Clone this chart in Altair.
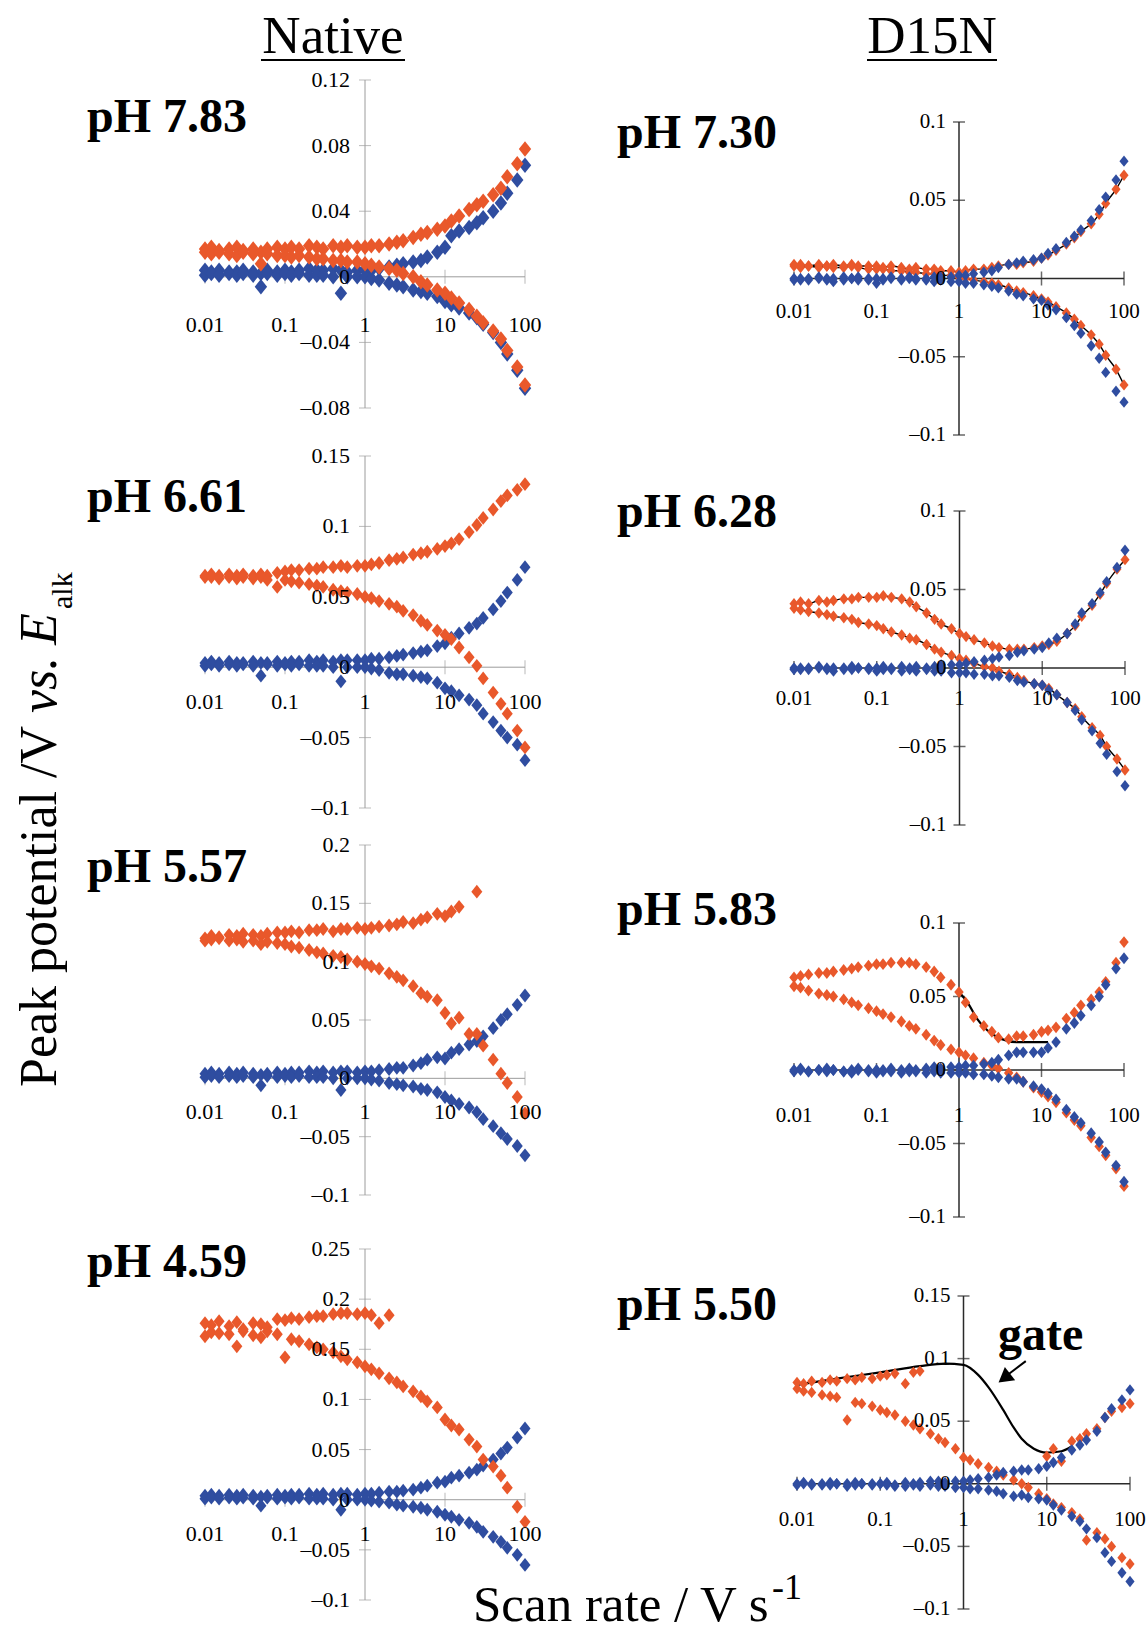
import altair as alt
import pandas as pd

# ---------------- data ----------------
SCAN_RATES = [0.01, 0.012, 0.015, 0.02, 0.025, 0.03, 0.04, 0.05, 0.06, 0.08,
              0.1, 0.12, 0.15, 0.2, 0.25, 0.3, 0.4, 0.5, 0.6, 0.8,
              1, 1.2, 1.5, 2, 2.5, 3, 4, 5, 6, 8,
              10, 12, 15, 20, 25, 30, 40, 50, 60, 80, 100]
X_TICKS = [0.01, 0.1, 1, 10, 100]
X_TICK_LABELS = ["0.01", "0.1", "1", "10", "100"]

# Native pH 7.83
N783_OX_O = [0.017, 0.018, 0.016, 0.017, 0.018, 0.016, 0.017, 0.015, 0.017, 0.018,
             0.017, 0.018, 0.017, 0.019, 0.018, 0.017, 0.019, 0.018, 0.019, 0.018,
             0.018, 0.019, 0.019, 0.020, 0.021, 0.022, 0.024, 0.026, 0.027, 0.029,
             0.031, 0.034, 0.037, 0.041, 0.044, 0.046, 0.050, 0.054, 0.061, 0.069, 0.078]
N783_RED_O = [0.015, 0.014, 0.015, 0.014, 0.013, 0.015, 0.014, 0.008, 0.014, 0.013,
              0.013, 0.012, 0.013, 0.012, 0.011, 0.011, 0.010, 0.010, 0.009, 0.009,
              0.008, 0.007, 0.006, 0.005, 0.004, 0.002, 0.000, -0.003, -0.005, -0.008,
              -0.010, -0.013, -0.016, -0.020, -0.024, -0.028, -0.033, -0.038, -0.045, -0.055, -0.066]
N783_OX_B = [0.004, 0.003, 0.004, 0.003, 0.003, 0.004, 0.003, 0.002, 0.004, 0.003,
             0.004, 0.003, 0.004, 0.005, 0.004, 0.004, 0.005, 0.004, 0.003, 0.004,
             0.004, 0.004, 0.005, 0.006, 0.007, 0.008, 0.009, 0.010, 0.012, 0.015,
             0.018, 0.025, 0.028, 0.030, 0.033, 0.036, 0.040, 0.045, 0.051, 0.059, 0.068]
N783_RED_B = [0.001, 0.002, 0.001, 0.002, 0.001, 0.002, 0.001, -0.006, 0.002, 0.001,
              0.002, 0.001, 0.002, 0.001, 0.001, 0.001, 0.000, -0.010, 0.000, 0.000,
              0.000, -0.001, -0.002, -0.004, -0.005, -0.006, -0.008, -0.009, -0.010, -0.012,
              -0.015, -0.017, -0.019, -0.022, -0.025, -0.029, -0.034, -0.040, -0.047, -0.057, -0.068]

# Native pH 6.61
N661_OX_O = [0.065, 0.066, 0.065, 0.066, 0.065, 0.066, 0.065, 0.066, 0.065, 0.067,
             0.068, 0.069, 0.069, 0.070, 0.070, 0.071, 0.071, 0.072, 0.071, 0.072,
             0.072, 0.073, 0.074, 0.076, 0.077, 0.078, 0.080, 0.081, 0.082, 0.084,
             0.086, 0.088, 0.091, 0.096, 0.101, 0.106, 0.112, 0.118, 0.122, 0.126, 0.130]
N661_RED_O = [0.064, 0.064, 0.063, 0.064, 0.063, 0.064, 0.063, 0.064, 0.062, 0.057,
              0.062, 0.061, 0.060, 0.059, 0.058, 0.057, 0.055, 0.054, 0.053, 0.052,
              0.050, 0.049, 0.047, 0.045, 0.043, 0.040, 0.037, 0.033, 0.030, 0.026,
              0.023, 0.020, 0.014, 0.007, 0.001, -0.008, -0.018, -0.026, -0.033, -0.045, -0.057]
N661_OX_B = [0.003, 0.004, 0.003, 0.004, 0.003, 0.003, 0.004, 0.003, 0.003, 0.004,
             0.003, 0.004, 0.004, 0.005, 0.004, 0.005, 0.004, 0.005, 0.005, 0.005,
             0.005, 0.006, 0.006, 0.007, 0.008, 0.009, 0.010, 0.011, 0.012, 0.015,
             0.017, 0.021, 0.024, 0.028, 0.031, 0.035, 0.041, 0.047, 0.053, 0.062, 0.071]
N661_RED_B = [0.001, 0.002, 0.001, 0.002, 0.001, 0.002, 0.001, -0.006, 0.002, 0.001,
              0.002, 0.001, 0.002, 0.001, 0.001, 0.001, 0.000, -0.010, 0.000, 0.000,
              0.000, -0.001, -0.002, -0.004, -0.005, -0.005, -0.006, -0.007, -0.008, -0.011,
              -0.015, -0.017, -0.020, -0.023, -0.027, -0.033, -0.039, -0.045, -0.050, -0.055, -0.066]

# Native pH 5.57
N557_OX_O = [0.120, 0.122, 0.121, 0.123, 0.122, 0.124, 0.123, 0.122, 0.124, 0.125,
             0.125, 0.126, 0.125, 0.127, 0.127, 0.128, 0.126, 0.128, 0.128, 0.129,
             0.128, 0.129, 0.130, 0.131, 0.132, 0.134, 0.133, 0.136, 0.138, 0.141,
             0.139, 0.143, 0.147, None, 0.160, None, None, None, None, None, None]
N557_RED_O = [0.118, 0.119, 0.120, 0.118, 0.119, 0.117, 0.118, 0.115, 0.117, 0.116,
              0.115, 0.113, 0.112, 0.110, 0.108, 0.107, 0.105, 0.104, 0.102, 0.100,
              0.098, 0.096, 0.094, 0.090, 0.087, 0.084, 0.079, 0.073, 0.070, 0.067,
              0.056, 0.047, 0.052, 0.038, 0.038, 0.028, 0.016, 0.004, -0.004, -0.016, -0.030]
N557_OX_B = [0.004, 0.005, 0.004, 0.005, 0.004, 0.005, 0.004, 0.003, 0.004, 0.005,
             0.004, 0.005, 0.005, 0.006, 0.005, 0.006, 0.005, 0.006, 0.006, 0.005,
             0.006, 0.006, 0.007, 0.008, 0.009, 0.009, 0.011, 0.013, 0.016, 0.018,
             0.017, 0.022, 0.025, 0.029, 0.032, 0.036, 0.043, 0.050, 0.055, 0.063, 0.071]
N557_RED_B = [0.001, 0.002, 0.001, 0.002, 0.001, 0.002, 0.001, -0.006, 0.002, 0.001,
              0.002, 0.001, 0.002, 0.001, 0.001, 0.001, 0.000, -0.010, 0.000, 0.000,
              0.000, -0.001, -0.002, -0.004, -0.005, -0.006, -0.007, -0.009, -0.010, -0.012,
              -0.016, -0.019, -0.022, -0.025, -0.029, -0.035, -0.041, -0.047, -0.052, -0.058, -0.066]

# Native pH 4.59
N459_OX_O = [0.176, 0.174, 0.178, 0.173, 0.177, 0.170, 0.176, 0.175, 0.172, 0.180,
             0.179, 0.181, 0.180, 0.182, 0.183, 0.183, 0.185, 0.186, 0.186, 0.185,
             0.186, 0.184, 0.176, 0.184, None, None, None, None, None, None,
             None, None, None, None, None, None, None, None, None, None, None]
N459_RED_O = [0.163, 0.167, 0.166, 0.165, 0.153, 0.168, 0.164, 0.162, 0.168, 0.165,
              0.142, 0.160, 0.158, 0.155, 0.152, 0.150, 0.147, 0.143, 0.140, 0.137,
              0.133, 0.130, 0.126, 0.121, 0.117, 0.113, 0.108, 0.103, 0.098, 0.092,
              0.080, 0.074, 0.070, 0.060, 0.053, 0.040, 0.033, 0.024, 0.012, -0.007, -0.022]
N459_OX_B = [0.004, 0.005, 0.004, 0.005, 0.004, 0.005, 0.004, 0.003, 0.004, 0.005,
             0.004, 0.005, 0.005, 0.006, 0.005, 0.006, 0.005, 0.006, 0.006, 0.005,
             0.006, 0.006, 0.007, 0.008, 0.008, 0.009, 0.010, 0.012, 0.014, 0.017,
             0.018, 0.022, 0.024, 0.027, 0.030, 0.034, 0.040, 0.046, 0.052, 0.062, 0.071]
N459_RED_B = [0.001, 0.002, 0.001, 0.002, 0.001, 0.002, 0.001, -0.006, 0.002, 0.001,
              0.002, 0.001, 0.002, 0.001, 0.001, 0.001, 0.000, -0.010, 0.000, 0.000,
              0.000, -0.001, -0.002, -0.003, -0.005, -0.006, -0.007, -0.008, -0.010, -0.012,
              -0.015, -0.017, -0.020, -0.023, -0.027, -0.032, -0.037, -0.042, -0.048, -0.055, -0.065]

# D15N pH 7.30
D730_OX_O = [0.009, 0.009, 0.008, 0.009, 0.008, 0.009, 0.008, 0.009, 0.008, 0.008,
             0.008, 0.007, 0.008, 0.007, 0.006, 0.007, 0.006, 0.006, 0.005, 0.005,
             0.004, 0.005, 0.006, 0.006, 0.007, 0.008, 0.009, 0.009, 0.010, 0.011,
             0.013, 0.015, 0.018, 0.022, 0.026, 0.030, 0.035, 0.041, 0.048, 0.057, 0.066]
D730_RED_O = [0.008, 0.007, 0.008, 0.007, 0.008, 0.007, 0.007, 0.008, 0.007, 0.006,
              0.006, 0.006, 0.005, 0.005, 0.004, 0.004, 0.003, 0.003, 0.002, 0.002,
              0.001, 0.000, -0.001, -0.002, -0.003, -0.004, -0.006, -0.008, -0.009, -0.011,
              -0.013, -0.015, -0.018, -0.022, -0.026, -0.030, -0.036, -0.042, -0.049, -0.058, -0.068]
D730_OX_B = [0.000, -0.001, 0.000, 0.001, 0.000, -0.002, 0.001, 0.000, 0.001, 0.000,
             -0.003, 0.000, 0.001, 0.000, 0.001, 0.000, 0.000, 0.001, 0.001, 0.001,
             0.002, 0.002, 0.003, 0.004, 0.005, 0.007, 0.009, 0.010, 0.011, 0.012,
             0.013, 0.016, 0.019, 0.023, 0.027, 0.031, 0.037, 0.044, 0.052, 0.063, 0.075]
D730_RED_B = [-0.001, 0.000, -0.001, 0.000, -0.001, 0.000, -0.001, 0.000, -0.001, -0.001,
              0.000, -0.001, 0.000, -0.001, 0.000, -0.001, -0.001, -0.002, -0.001, -0.002,
              -0.002, -0.003, -0.003, -0.004, -0.005, -0.006, -0.008, -0.010, -0.011, -0.013,
              -0.014, -0.017, -0.020, -0.025, -0.030, -0.035, -0.043, -0.051, -0.060, -0.072, -0.079]

# D15N pH 6.28
D628_OX_O = [0.041, 0.042, 0.041, 0.043, 0.042, 0.043, 0.044, 0.044, 0.045, 0.045,
             0.045, 0.046, 0.045, 0.044, 0.042, 0.039, 0.035, 0.031, 0.028, 0.025,
             0.022, 0.020, 0.018, 0.016, 0.014, 0.013, 0.012, 0.012, 0.012, 0.013,
             0.014, 0.015, 0.017, 0.022, 0.027, 0.033, 0.040, 0.047, 0.054, 0.063, 0.069]
D628_RED_O = [0.038, 0.037, 0.036, 0.035, 0.034, 0.033, 0.032, 0.031, 0.029, 0.028,
              0.027, 0.025, 0.023, 0.021, 0.019, 0.018, 0.015, 0.012, 0.010, 0.008,
              0.006, 0.005, 0.003, 0.001, 0.000, -0.002, -0.004, -0.006, -0.008, -0.010,
              -0.011, -0.013, -0.017, -0.022, -0.026, -0.031, -0.038, -0.043, -0.050, -0.058, -0.065]
D628_OX_B = [0.000, -0.001, 0.000, 0.001, 0.000, -0.002, 0.000, 0.001, 0.000, 0.000,
             -0.002, 0.001, 0.000, 0.001, 0.000, 0.001, 0.000, 0.001, 0.002, 0.002,
             0.002, 0.003, 0.004, 0.005, 0.006, 0.007, 0.008, 0.010, 0.011, 0.012,
             0.013, 0.016, 0.019, 0.022, 0.028, 0.035, 0.041, 0.048, 0.055, 0.064, 0.075]
D628_RED_B = [-0.001, 0.000, -0.001, 0.000, -0.001, 0.000, -0.001, -0.001, 0.000, -0.001,
              0.000, -0.001, -0.001, -0.002, -0.001, -0.002, -0.001, -0.002, -0.002, -0.003,
              -0.003, -0.003, -0.004, -0.004, -0.005, -0.005, -0.006, -0.008, -0.009, -0.010,
              -0.011, -0.014, -0.017, -0.022, -0.027, -0.033, -0.040, -0.048, -0.055, -0.066, -0.075]

# D15N pH 5.83
D583_OX_O = [0.063, 0.064, 0.065, 0.066, 0.066, 0.067, 0.068, 0.069, 0.070, 0.071,
             0.072, 0.072, 0.073, 0.073, 0.073, 0.072, 0.070, 0.067, 0.063, 0.058,
             0.053, 0.046, 0.036, 0.030, 0.026, 0.022, 0.021, 0.023, 0.023, 0.024,
             0.026, 0.027, 0.029, 0.035, 0.039, 0.044, 0.048, 0.053, 0.060, 0.073, 0.087]
D583_RED_O = [0.057, 0.056, 0.054, 0.052, 0.051, 0.050, 0.048, 0.046, 0.044, 0.042,
              0.040, 0.038, 0.036, 0.033, 0.030, 0.028, 0.024, 0.020, 0.017, 0.014,
              0.012, 0.010, 0.008, 0.005, 0.003, 0.001, -0.002, -0.005, -0.008, -0.012,
              -0.015, -0.018, -0.022, -0.029, -0.034, -0.038, -0.046, -0.052, -0.058, -0.067, -0.079]
D583_OX_B = [0.000, 0.001, -0.001, 0.000, 0.001, 0.000, -0.001, 0.000, 0.001, 0.000,
             -0.002, 0.000, 0.001, 0.000, 0.001, 0.000, 0.001, 0.002, 0.001, 0.002,
             0.002, 0.003, 0.003, 0.004, 0.005, 0.007, 0.010, 0.012, 0.012, 0.012,
             0.012, 0.015, 0.019, 0.028, 0.032, 0.037, 0.044, 0.050, 0.058, 0.069, 0.076]
D583_RED_B = [-0.001, 0.000, -0.001, 0.000, -0.001, 0.000, -0.001, -0.002, 0.000, -0.001,
              0.000, -0.001, -0.001, -0.002, -0.001, -0.001, -0.002, -0.001, -0.002, -0.002,
              -0.002, -0.002, -0.003, -0.003, -0.004, -0.005, -0.006, -0.006, -0.008, -0.011,
              -0.013, -0.016, -0.020, -0.027, -0.032, -0.036, -0.043, -0.049, -0.056, -0.065, -0.076]
FIT583_X = [1, 1.3, 1.65, 2.2, 3.3, 5, 8, 12]
FIT583_Y = [0.053, 0.045, 0.035, 0.027, 0.021, 0.019, 0.019, 0.019]

# D15N pH 5.50
D550_OX_O = [0.081, 0.080, 0.082, 0.081, 0.083, 0.082, 0.084, 0.083, 0.085, 0.084,
             0.086, 0.087, 0.088, 0.080, 0.089, 0.090, None, None, None, None,
             None, None, None, None, None, None, None, None, None, None,
             0.022, 0.028, 0.018, 0.034, 0.036, 0.040, 0.044, 0.053, 0.058, 0.061, 0.064]
D550_RED_O = [0.076, 0.074, 0.073, 0.071, 0.070, 0.069, 0.051, 0.065, 0.064, 0.062,
              0.059, 0.057, 0.055, 0.050, 0.047, 0.044, 0.040, 0.036, 0.033, 0.028,
              0.021, 0.019, 0.016, 0.013, 0.010, 0.007, 0.003, 0.000, -0.003, -0.008,
              -0.012, -0.016, -0.019, -0.023, -0.028, -0.045, -0.039, -0.044, -0.050, -0.059, -0.064]
D550_OX_B = [0.000, 0.001, 0.000, -0.001, 0.001, 0.000, 0.000, 0.001, 0.000, 0.000,
             0.000, 0.001, -0.002, 0.001, 0.000, 0.001, 0.002, 0.002, 0.001, 0.002,
             0.002, 0.003, 0.004, 0.005, 0.007, 0.009, 0.010, 0.011, 0.011, 0.012,
             0.014, 0.017, 0.021, 0.027, 0.031, 0.035, 0.042, 0.053, 0.060, 0.067, 0.075]
D550_RED_B = [-0.001, 0.000, -0.001, 0.000, -0.001, 0.000, -0.002, -0.001, 0.000, -0.001,
              0.000, -0.001, -0.001, -0.002, -0.001, -0.002, -0.001, -0.002, -0.002, -0.003,
              -0.003, -0.004, -0.004, -0.005, -0.006, -0.008, -0.010, -0.009, -0.011, -0.012,
              -0.013, -0.017, -0.021, -0.026, -0.030, -0.036, -0.043, -0.055, -0.062, -0.071, -0.078]
GATE_X = [0.01, 0.03, 0.1, 0.3, 0.6, 1, 1.5, 2, 3, 4, 5, 7, 10, 15, 20]
GATE_Y = [0.079, 0.084, 0.089, 0.094, 0.096, 0.095, 0.087, 0.077, 0.059, 0.045, 0.036, 0.028, 0.025, 0.026, 0.030]
GATE_ARROW_X = [5.6, 3.5]
GATE_ARROW_Y = [0.098, 0.0877]
GATE_HEAD_X = [3.09]
GATE_HEAD_Y = [0.0845]

# ---------------- styling ----------------
FONT = "Liberation Serif"
ORANGE = "#E9582B"
BLUE = "#2F4DA0"
DIAMOND = "M0,-1L0.8,0L0,1L-0.8,0Z"

STYLE = {
    "native": dict(axis_color="#9c9c9c", axis_width=1.0, tick_font=22, label_dx=-15),
    "d15n": dict(axis_color="#2a2a2a", axis_width=1.5, tick_font=21, label_dx=-13),
}

PANELS = [
    dict(title="pH 7.83", txy=(87, 132), style="native", x_px=(205, 525),
         y_dom=(-0.08, 0.12), y_px=(408, 80),
         y_ticks=[-0.08, -0.04, 0.0, 0.04, 0.08, 0.12],
         y_labels=["–0.08", "–0.04", "0", "0.04", "0.08", "0.12"],
         x_dy=48, size=240,
         points=[(N783_OX_B, BLUE), (N783_RED_B, BLUE), (N783_OX_O, ORANGE), (N783_RED_O, ORANGE)],
         lines=[]),
    dict(title="pH 6.61", txy=(87, 512), style="native", x_px=(205, 525),
         y_dom=(-0.1, 0.15), y_px=(808, 456),
         y_ticks=[-0.1, -0.05, 0.0, 0.05, 0.1, 0.15],
         y_labels=["–0.1", "–0.05", "0", "0.05", "0.1", "0.15"],
         x_dy=35, size=190,
         points=[(N661_OX_B, BLUE), (N661_RED_B, BLUE), (N661_OX_O, ORANGE), (N661_RED_O, ORANGE)],
         lines=[]),
    dict(title="pH 5.57", txy=(87, 882), style="native", x_px=(205, 525),
         y_dom=(-0.1, 0.2), y_px=(1195, 845),
         y_ticks=[-0.1, -0.05, 0.0, 0.05, 0.1, 0.15, 0.2],
         y_labels=["–0.1", "–0.05", "0", "0.05", "0.1", "0.15", "0.2"],
         x_dy=34, size=190,
         points=[(N557_OX_B, BLUE), (N557_RED_B, BLUE), (N557_OX_O, ORANGE), (N557_RED_O, ORANGE)],
         lines=[]),
    dict(title="pH 4.59", txy=(87, 1277), style="native", x_px=(205, 525),
         y_dom=(-0.1, 0.25), y_px=(1600, 1249),
         y_ticks=[-0.1, -0.05, 0.0, 0.05, 0.1, 0.15, 0.2, 0.25],
         y_labels=["–0.1", "–0.05", "0", "0.05", "0.1", "0.15", "0.2", "0.25"],
         x_dy=34, size=190,
         points=[(N459_OX_B, BLUE), (N459_RED_B, BLUE), (N459_OX_O, ORANGE), (N459_RED_O, ORANGE)],
         lines=[]),
    dict(title="pH 7.30", txy=(617, 148), style="d15n", x_px=(794, 1124),
         y_dom=(-0.1, 0.1), y_px=(435, 122),
         y_ticks=[-0.1, -0.05, 0.0, 0.05, 0.1], y_labels=["–0.1", "–0.05", "0", "0.05", "0.1"],
         x_dy=33, size=130,
         points=[(D730_OX_O, ORANGE), (D730_RED_O, ORANGE), (D730_OX_B, BLUE), (D730_RED_B, BLUE)],
         lines=[(SCAN_RATES, D730_OX_O), (SCAN_RATES, D730_RED_O)]),
    dict(title="pH 6.28", txy=(617, 527), style="d15n", x_px=(794, 1125),
         y_dom=(-0.1, 0.1), y_px=(825, 511),
         y_ticks=[-0.1, -0.05, 0.0, 0.05, 0.1], y_labels=["–0.1", "–0.05", "0", "0.05", "0.1"],
         x_dy=31, size=130,
         points=[(D628_OX_O, ORANGE), (D628_RED_O, ORANGE), (D628_OX_B, BLUE), (D628_RED_B, BLUE)],
         lines=[(SCAN_RATES, D628_OX_O), (SCAN_RATES, D628_RED_O)]),
    dict(title="pH 5.83", txy=(617, 925), style="d15n", x_px=(794, 1124),
         y_dom=(-0.1, 0.1), y_px=(1217, 923),
         y_ticks=[-0.1, -0.05, 0.0, 0.05, 0.1], y_labels=["–0.1", "–0.05", "0", "0.05", "0.1"],
         x_dy=46, size=140,
         points=[(D583_OX_O, ORANGE), (D583_RED_O, ORANGE), (D583_OX_B, BLUE), (D583_RED_B, BLUE)],
         lines=[(FIT583_X, FIT583_Y)]),
    dict(title="pH 5.50", txy=(617, 1320), style="d15n", x_px=(797, 1130),
         y_dom=(-0.1, 0.15), y_px=(1609, 1296),
         y_ticks=[-0.1, -0.05, 0.0, 0.05, 0.1, 0.15],
         y_labels=["–0.1", "–0.05", "0", "0.05", "0.1", "0.15"],
         x_dy=36, size=130,
         points=[(D550_OX_O, ORANGE), (D550_RED_O, ORANGE), (D550_OX_B, BLUE), (D550_RED_B, BLUE)],
         lines=[(GATE_X, GATE_Y)], gate=True),
]


def panel_layers(p):
    st = STYLE[p["style"]]
    sx = alt.Scale(type="log", domain=[0.01, 100], range=list(p["x_px"]), nice=False)
    sy = alt.Scale(type="linear", domain=list(p["y_dom"]), range=list(p["y_px"]),
                   nice=False, zero=False)

    def ex(f="x"):
        return alt.X(f + ":Q", scale=sx, axis=None)

    def ey(f="y"):
        return alt.Y(f + ":Q", scale=sy, axis=None)

    ymin, ymax = p["y_dom"]
    ac, aw = st["axis_color"], st["axis_width"]
    out = []
    # axis lines crossing at (1, 0)
    out.append(alt.Chart(pd.DataFrame({"x": [1.0], "y": [ymin], "y2": [ymax]}))
               .mark_rule(color=ac, strokeWidth=aw)
               .encode(x=ex(), y=ey(), y2="y2:Q"))
    out.append(alt.Chart(pd.DataFrame({"x": [0.01], "x2": [100.0], "y": [0.0]}))
               .mark_rule(color=ac, strokeWidth=aw)
               .encode(x=ex(), x2="x2:Q", y=ey()))
    yt = p["y_ticks"]
    out.append(alt.Chart(pd.DataFrame({"x": [1.0] * len(yt), "y": yt}))
               .mark_tick(orient="horizontal", size=12, thickness=aw, color=ac)
               .encode(x=ex(), y=ey()))
    out.append(alt.Chart(pd.DataFrame({"x": X_TICKS, "y": [0.0] * len(X_TICKS)}))
               .mark_tick(orient="vertical", size=14, thickness=aw, color=ac)
               .encode(x=ex(), y=ey()))
    # fit lines (black)
    for lx, ly in p["lines"]:
        df = pd.DataFrame({"x": lx, "y": ly}).dropna()
        out.append(alt.Chart(df).mark_line(color="black", strokeWidth=2.2 if p.get("gate") or len(lx) < 20 else 1.4,
                                           interpolate="monotone")
                   .encode(x=ex(), y=ey()))
    # data points
    for ser, col in p["points"]:
        df = pd.DataFrame({"x": SCAN_RATES, "y": ser}).dropna()
        out.append(alt.Chart(df)
                   .mark_point(shape=DIAMOND, filled=True, size=p["size"], color=col,
                               opacity=1, strokeWidth=0)
                   .encode(x=ex(), y=ey()))
    # gate arrow
    if p.get("gate"):
        out.append(alt.Chart(pd.DataFrame({"x": GATE_ARROW_X[:1], "x2": GATE_ARROW_X[1:],
                                           "y": GATE_ARROW_Y[:1], "y2": GATE_ARROW_Y[1:]}))
                   .mark_rule(color="black", strokeWidth=2)
                   .encode(x=ex(), x2="x2:Q", y=ey(), y2="y2:Q"))
        out.append(alt.Chart(pd.DataFrame({"x": GATE_HEAD_X, "y": GATE_HEAD_Y}))
                   .mark_point(shape="triangle-up", filled=True, size=280, color="black",
                               opacity=1, angle=232, strokeWidth=0)
                   .encode(x=ex(), y=ey()))
    # tick labels
    out.append(alt.Chart(pd.DataFrame({"x": [1.0] * len(yt), "y": yt, "t": p["y_labels"]}))
               .mark_text(align="right", baseline="middle", dx=st["label_dx"], font=FONT,
                          fontSize=st["tick_font"], color="black")
               .encode(x=ex(), y=ey(), text="t:N"))
    out.append(alt.Chart(pd.DataFrame({"x": X_TICKS, "y": [0.0] * len(X_TICKS), "t": X_TICK_LABELS}))
               .mark_text(align="center", baseline="middle", dy=p["x_dy"], font=FONT,
                          fontSize=st["tick_font"], color="black")
               .encode(x=ex(), y=ey(), text="t:N"))
    return out


def text_at(txt, x, y, size, weight="normal", style="normal", align="left", angle=0):
    return (alt.Chart(alt.Data(values=[{}]))
            .mark_text(text=txt, font=FONT, fontSize=size, fontWeight=weight, fontStyle=style,
                       align=align, baseline="alphabetic", angle=angle, color="black")
            .encode(x=alt.value(x), y=alt.value(y)))


def hline(x1, x2, y, w=2):
    return (alt.Chart(alt.Data(values=[{}]))
            .mark_rule(color="black", strokeWidth=w)
            .encode(x=alt.value(x1), x2=alt.value(x2), y=alt.value(y)))


layers = []
for p in PANELS:
    layers.extend(panel_layers(p))
    layers.append(text_at(p["title"], p["txy"][0], p["txy"][1], 48, weight="bold"))

# column headers
layers.append(text_at("Native", 333, 53, 53, align="center"))
layers.append(hline(261, 405, 60))
layers.append(text_at("D15N", 932, 53, 53, align="center"))
layers.append(hline(867, 997, 60))

# axis titles
layers.append(text_at("Peak potential /V", 56, 1087, 52, angle=270))
layers.append(text_at("vs.", 56, 713, 52, style="italic", angle=270))
layers.append(text_at("E", 56, 645, 52, style="italic", angle=270))
layers.append(text_at("alk", 72, 609, 30, angle=270))
layers.append(text_at("Scan rate / V s", 473, 1621, 51))
layers.append(text_at("-1", 772, 1599, 36))

# gate annotation
layers.append(text_at("gate", 998, 1350, 48, weight="bold"))

chart = (alt.layer(*layers)
         .resolve_scale(x="independent", y="independent")
         .properties(width=1146, height=1633, padding=0, background="white",
                     autosize=alt.AutoSizeParams(type="none"))
         .configure_view(stroke="transparent"))

chart.save("out.html", embed_options={"renderer": "svg", "actions": False})
